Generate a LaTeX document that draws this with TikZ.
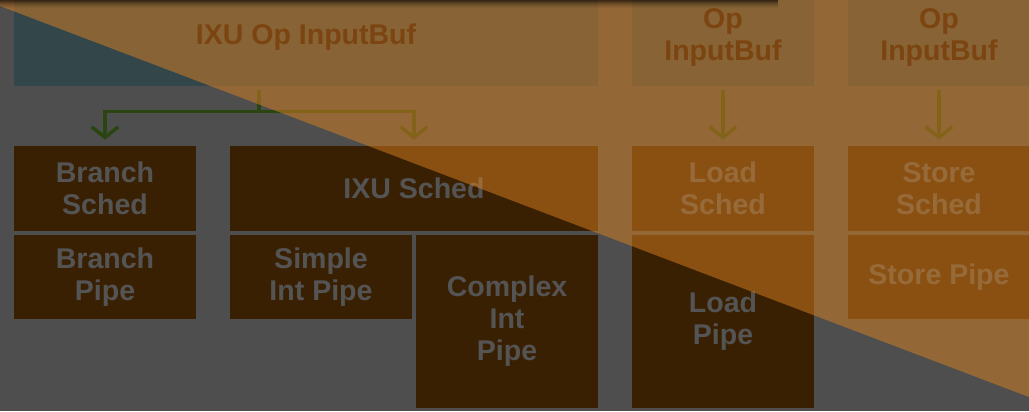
\documentclass[tikz,border=0pt]{standalone}
\usepackage{fontspec}
\setmainfont{Liberation Sans}
\usetikzlibrary{arrows.meta}
\definecolor{bgc}{HTML}{4E4E4E}
\definecolor{boxc}{HTML}{3A2003}
\definecolor{topc}{HTML}{33464A}
\definecolor{txtc}{HTML}{545454}
\definecolor{toptxt}{HTML}{1C0800}
\definecolor{arrc}{HTML}{2B4511}
\definecolor{ovl}{HTML}{DB8121}
\tikzset{
  unit/.style={fill=boxc, text=txtc, font=\fontsize{21.4}{24}\selectfont\bfseries,
    align=center, inner sep=0pt, anchor=center},
  topunit/.style={unit, fill=topc, text=toptxt, minimum height=73.5pt},
  sched/.style={unit, minimum width=136.5pt, minimum height=63.75pt},
  shortpipe/.style={unit, minimum width=136.5pt, minimum height=63pt},
  tallpipe/.style={unit, minimum width=136.5pt, minimum height=129.75pt},
  conn/.style={draw=arrc, line width=2.6pt},
  arr/.style={conn, -{Straight Barb[length=8pt,width=20pt]}, shorten >=4.5pt},
}
\begin{document}
\begin{tikzpicture}[x=0.75pt,y=-0.75pt]
\useasboundingbox (0,0) rectangle (1029,411);
\clip (0,0) rectangle (1029,411);
\fill[bgc] (0,0) rectangle (1029,411);

% top input buffers
\node[topunit, minimum width=438pt] (ixuop) at (306,37) {IXU Op InputBuf};
\node[topunit, minimum width=136.5pt] (opl) at (723,37) {Op\\InputBuf};
\node[topunit, minimum width=136.5pt] (ops) at (939,37) {Op\\InputBuf};

% schedulers
\node[sched] (bsched) at (105,188.5) {Branch\\Sched};
\node[sched, minimum width=276pt] (isched) at (414,188.5) {IXU Sched};
\node[sched] (lsched) at (723,188.5) {Load\\Sched};
\node[sched] (ssched) at (939,188.5) {Store\\Sched};

% pipes
\node[shortpipe] (bpipe) at (105,277) {Branch\\Pipe};
\node[shortpipe] (sipipe) at (321,277) {Simple\\Int Pipe};
\node[tallpipe] (cipipe) at (507,321.5) {Complex\\Int\\Pipe};
\node[tallpipe] (lpipe) at (723,321.5) {Load\\Pipe};
\node[shortpipe] (spipe) at (939,277) {Store Pipe};

% connectors
\coordinate (fork) at (259,111.5);
\draw[conn, shorten <=3pt] (ixuop.south -| fork) -- (fork);
\draw[arr] (fork) -| (bsched.north);
\draw[arr] (fork) -| (isched.north);
\draw[arr, shorten <=3pt] (opl.south) -- (lsched.north);
\draw[arr, shorten <=3pt] (ops.south) -- (ssched.north);

% diagonal orange overlay
\fill[ovl, opacity=0.5] (0,0) -- (0,6) -- (1029,397) -- (1029,0) -- cycle;

% top shadow
\foreach \i/\o in {0/0.6,1/0.5,2/0.4,3/0.3,4/0.22,5/0.15,6/0.09,7/0.04}
  \fill[black, opacity=\o] (0,\i) rectangle (778,\i+1);
\end{tikzpicture}
\end{document}
